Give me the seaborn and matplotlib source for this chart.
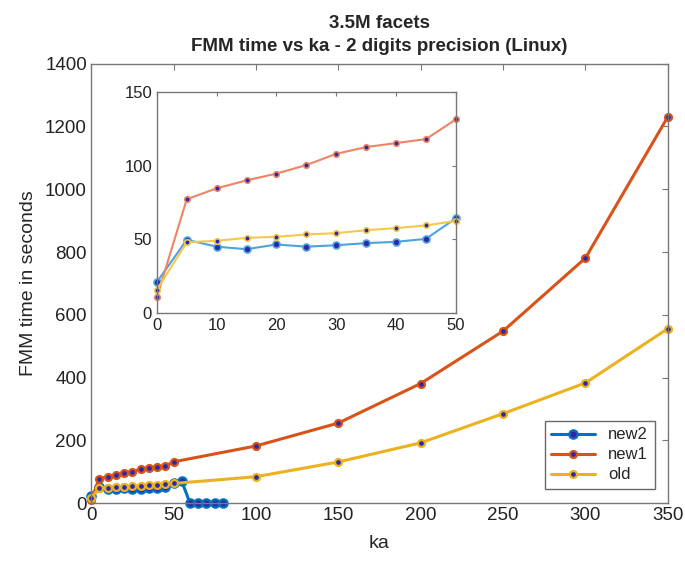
import pandas as pd
import matplotlib.pyplot as plt
import seaborn as sns

# Data
ka_small = [0, 5, 10, 15, 20, 25, 30, 35, 40, 45, 50]
ka_big = [100, 150, 200, 250, 300, 350]
ka_new2_tail = [55, 60, 65, 70, 75, 80]

new1_small = [10.6, 77.2, 84.6, 90.0, 94.6, 100.4, 108.0, 112.6, 115.3, 118.0, 131.4]
old_small = [15.8, 48.0, 49.0, 51.0, 51.7, 53.3, 54.2, 56.2, 57.6, 59.4, 62.5]
new2_small = [21.0, 49.7, 45.0, 43.3, 46.5, 45.0, 46.0, 47.4, 48.3, 50.3, 64.3]

new1_big = [182, 255, 381, 548, 781, 1231]
old_big = [84, 131, 192, 285, 383, 556]
new2_tail = [70, 0, 0, 0, 0, 0]

series_names = ['new2', 'new1', 'old']
main_colors = ['#0072BD', '#D95319', '#EDB120']
inset_colors = ['#4DA3DF', '#EE8466', '#F5C84A']
marker_face = '#2a2aa8'

# Build long-form tables
main_df = pd.concat([
    pd.DataFrame({'ka': ka_small + ka_new2_tail, 'time': new2_small + new2_tail, 'series': 'new2'}),
    pd.DataFrame({'ka': ka_small + ka_big, 'time': new1_small + new1_big, 'series': 'new1'}),
    pd.DataFrame({'ka': ka_small + ka_big, 'time': old_small + old_big, 'series': 'old'}),
], ignore_index=True)

inset_df = pd.concat([
    pd.DataFrame({'ka': ka_small, 'time': new2_small, 'series': 'new2'}),
    pd.DataFrame({'ka': ka_small, 'time': new1_small, 'series': 'new1'}),
    pd.DataFrame({'ka': ka_small, 'time': old_small, 'series': 'old'}),
], ignore_index=True)

sns.set_style('white')
plt.rcParams['font.family'] = ['Liberation Sans', 'DejaVu Sans']

fig = plt.figure(figsize=(6.85, 5.64), dpi=100)
ax = fig.add_axes([0.133, 0.108, 0.842, 0.779])

for name, col in zip(series_names, main_colors):
    d = main_df[main_df['series'] == name]
    ms = 6 if name == 'new2' else 5
    sns.lineplot(data=d, x='ka', y='time', ax=ax, color=col, linewidth=2.2,
                 marker='o', markersize=ms, markerfacecolor=marker_face,
                 markeredgecolor=col, markeredgewidth=1.6, label=name,
                 sort=False, estimator=None, clip_on=False)

ax.set_xlim(0, 350)
ax.set_ylim(0, 1400)
ax.set_xticks(range(0, 351, 50))
ax.set_yticks(range(0, 1401, 200))
ax.tick_params(direction='in', length=4, labelsize=13.5, colors='#222222',
               top=True, right=True, color='#777777', pad=3)
for s in ax.spines.values():
    s.set_color('#777777')
    s.set_linewidth(1.0)
ax.set_xlabel('ka', fontsize=14, labelpad=8)
ax.set_ylabel('FMM time in seconds', fontsize=14, labelpad=6)
ax.set_title('3.5M facets\nFMM time vs ka - 2 digits precision (Linux)',
             fontsize=13.5, fontweight='bold', linespacing=1.45, pad=9)
leg = ax.legend(loc='lower right', bbox_to_anchor=(0.977, 0.032), borderaxespad=0,
                fontsize=12, frameon=True, fancybox=False, edgecolor='#444444',
                handlelength=2.6, borderpad=0.4, labelspacing=0.3)
leg.get_frame().set_linewidth(1.0)

# Inset
axi = fig.add_axes([0.229, 0.445, 0.4365, 0.392])
for name, col in zip(series_names, inset_colors):
    d = inset_df[inset_df['series'] == name]
    ms = 5 if name == 'new2' else 4
    sns.lineplot(data=d, x='ka', y='time', ax=axi, color=col, linewidth=1.5,
                 marker='o', markersize=ms, markerfacecolor=marker_face,
                 markeredgecolor=col, markeredgewidth=1.2, legend=False,
                 sort=False, estimator=None, clip_on=False)
axi.set_xlim(0, 50)
axi.set_ylim(0, 150)
axi.set_xticks(range(0, 51, 10))
axi.set_yticks([0, 50, 100, 150])
axi.tick_params(direction='in', length=3, labelsize=12, colors='#222222',
                top=True, right=True, color='#777777')
for s in axi.spines.values():
    s.set_color('#777777')
    s.set_linewidth(1.0)
axi.set_xlabel('')
axi.set_ylabel('')

fig.savefig('out.png', dpi=100)
